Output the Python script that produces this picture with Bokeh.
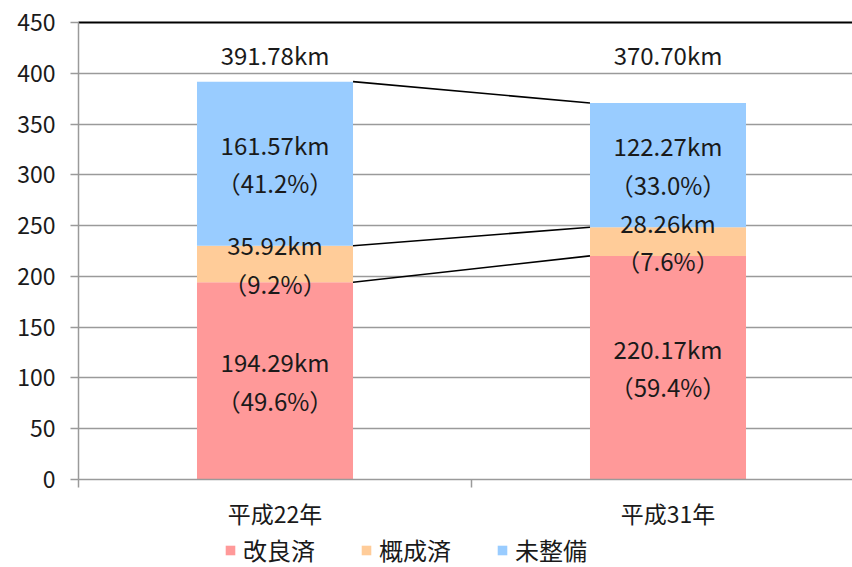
from bokeh.plotting import figure
from bokeh.layouts import column
from bokeh.models import Range1d, FixedTicker, Legend, LegendItem, LinearAxis, ColumnDataSource
from bokeh.core.properties import value
from bokeh.embed import file_html
from bokeh.resources import INLINE

# ---- data ----
years = ["平成22年", "平成31年"]
series = ["改良済", "概成済", "未整備"]
kairyo = [194.29, 220.17]
gaisei = [35.92, 28.26]
miseibi = [161.57, 122.27]
totals = [391.78, 370.70]
pct_kairyo = [49.6, 59.4]
pct_gaisei = [9.2, 7.6]
pct_miseibi = [41.2, 33.0]
y_ticks = [0, 50, 100, 150, 200, 250, 300, 350, 400, 450]

# ---- style ----
colors = ["#FF9999", "#FFCC99", "#99CCFF"]
FONT = "Noto Sans CJK JP"
TXT = "#1a1a1a"
GRID = "#9a9a9a"
bar_w = 0.397
x_pos = [0.5, 1.5]
total_label_y = 418

src = ColumnDataSource(dict(x=x_pos, 改良済=kairyo, 概成済=gaisei, 未整備=miseibi))

p = figure(width=852, height=532, x_range=Range1d(0, 774 / 393), y_range=Range1d(0, 450),
           output_backend="svg", toolbar_location=None,
           min_border_left=78, min_border_right=0, min_border_top=22, min_border_bottom=52)
p.outline_line_color = None
p.xgrid.visible = False
p.ygrid.ticker = FixedTicker(ticks=y_ticks)
p.ygrid.grid_line_color = GRID
p.ygrid.grid_line_width = 1.5

p.vbar_stack(series, x="x", width=bar_w, source=src, color=colors, line_color=None)

# connector lines between the bars
cum1 = [kairyo[0], kairyo[0] + gaisei[0], kairyo[0] + gaisei[0] + miseibi[0]]
cum2 = [kairyo[1], kairyo[1] + gaisei[1], kairyo[1] + gaisei[1] + miseibi[1]]
p.segment(x0=[x_pos[0] + bar_w / 2] * 3, y0=cum1, x1=[x_pos[1] - bar_w / 2] * 3, y1=cum2,
          line_color="black", line_width=1.6)

# segment labels
lx, ly, lt = [], [], []
for i in range(2):
    base = 0
    for v, pc in ((kairyo[i], pct_kairyo[i]), (gaisei[i], pct_gaisei[i]), (miseibi[i], pct_miseibi[i])):
        lx.append(x_pos[i])
        ly.append(base + v / 2)
        lt.append(f"{v:.2f}km\n（{pc:.1f}%）")
        base += v
p.text(x=lx, y=ly, text=lt, text_align="center", text_baseline="middle",
       text_font=value(FONT), text_font_size="24px", text_color=TXT, text_line_height=1.1)

# totals
p.text(x=x_pos, y=[total_label_y] * 2, text=[f"{t:.2f}km" for t in totals],
       text_align="center", text_baseline="middle",
       text_font=value(FONT), text_font_size="24px", text_color=TXT)

# y axis
ya = p.left[0]
ya.ticker = FixedTicker(ticks=y_ticks)
ya.axis_line_color = GRID
ya.axis_line_width = 1.5
ya.major_tick_line_color = GRID
ya.major_tick_line_width = 1.5
ya.major_tick_out = 8
ya.major_tick_in = 0
ya.minor_tick_line_color = None
ya.major_label_standoff = 15
ya.major_label_text_font = FONT
ya.major_label_text_font_size = "23px"
ya.major_label_text_color = TXT

# x axis
xa = p.below[0]
xa.ticker = FixedTicker(ticks=x_pos, minor_ticks=[0, 1, 2])
xa.major_label_overrides = {x_pos[0]: years[0], x_pos[1]: years[1]}
xa.major_tick_line_color = None
xa.major_tick_out = 0
xa.major_tick_in = 0
xa.minor_tick_line_color = GRID
xa.minor_tick_line_width = 1.5
xa.minor_tick_out = 8
xa.minor_tick_in = 0
xa.axis_line_color = GRID
xa.axis_line_width = 1.5
xa.major_label_standoff = 8
xa.major_label_text_font = FONT
xa.major_label_text_font_size = "23px"
xa.major_label_text_color = TXT

# black top border
top = LinearAxis(axis_line_color="black", axis_line_width=2, major_tick_line_color=None,
                 minor_tick_line_color=None, major_label_text_font_size="0px",
                 ticker=FixedTicker(ticks=[]))
p.add_layout(top, "above")

# legend in its own strip below the chart
lg = figure(width=852, height=35, x_range=Range1d(0, 1), y_range=Range1d(0, 1),
            output_backend="svg", toolbar_location=None,
            min_border_left=0, min_border_right=0, min_border_top=0, min_border_bottom=0)
lg.axis.visible = False
lg.grid.visible = False
lg.outline_line_color = None
lrs = [lg.vbar(x=[-5], top=[0], width=0.1, color=c, line_color=None) for c in colors]
legend = Legend(items=[LegendItem(label=s, renderers=[r]) for s, r in zip(series, lrs)],
                orientation="horizontal", location=(146, 0),
                glyph_width=12, glyph_height=12, label_standoff=7, spacing=45,
                label_text_font=FONT, label_text_font_size="24px", label_text_color=TXT,
                border_line_color=None, background_fill_alpha=0, padding=0, margin=0)
lg.add_layout(legend, "center")

open("out.html", "w").write(file_html(column(p, lg, spacing=0), INLINE))
